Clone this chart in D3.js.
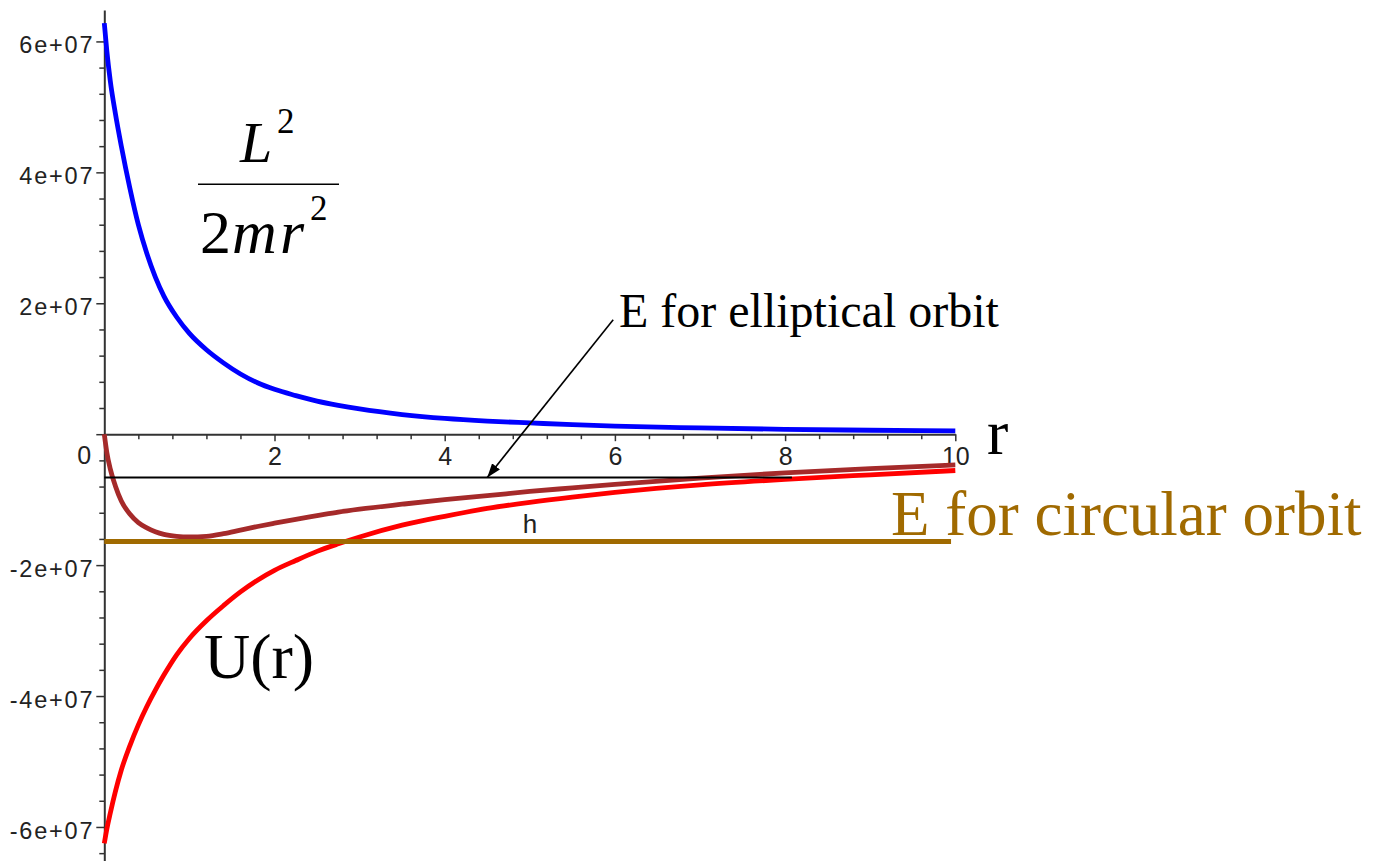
<!DOCTYPE html>
<html>
<head>
<meta charset="utf-8">
<script src="https://cdn.jsdelivr.net/npm/d3@7"></script>
<style>
  html, body { margin: 0; padding: 0; background: #fff; }
  svg { display: block; }
</style>
</head>
<body>
<svg id="chart" width="1378" height="861"></svg>
<script>
// Radial distance r (plot units)
const r = [0, 0.03, 0.07, 0.13, 0.2, 0.3, 0.4, 0.5, 0.6, 0.7, 0.85, 1.0, 1.2, 1.4, 1.6, 1.8,
           2.0, 2.25, 2.5, 2.75, 3.0, 3.5, 4.0, 4.5, 5.0, 5.5, 6.0, 7.0, 8.0, 9.0, 10.0];

// Energies in units of 1e7
// centrifugal term L^2 / (2 m r^2)
const centrifugal = [6.28, 5.85, 5.40, 4.90, 4.40, 3.76, 3.20, 2.76, 2.40, 2.11, 1.79, 1.54, 1.29, 1.09, 0.92, 0.785,
                     0.685, 0.59, 0.505, 0.44, 0.385, 0.30, 0.24, 0.20, 0.172, 0.145, 0.123, 0.095, 0.074, 0.06, 0.05];
// gravitational potential U(r)
const potential = [-6.25, -6.03, -5.79, -5.46, -5.13, -4.76, -4.44, -4.16, -3.91, -3.68, -3.37, -3.12, -2.85, -2.62, -2.41, -2.23,
                   -2.08, -1.93, -1.79, -1.675, -1.57, -1.39, -1.255, -1.135, -1.04, -0.96, -0.89, -0.775, -0.69, -0.62, -0.555];
// effective potential
const effective = [0, -0.28, -0.53, -0.79, -1.02, -1.22, -1.35, -1.43, -1.49, -1.53, -1.56, -1.57, -1.56, -1.52, -1.465, -1.41,
                   -1.36, -1.30, -1.245, -1.19, -1.145, -1.07, -1.00, -0.94, -0.875, -0.82, -0.765, -0.67, -0.59, -0.525, -0.47];

// Energy levels (units of 1e7) and the r-span each is drawn over
const ellipticalE = -0.66;
const ellipticalSpan = [0, 8.08];
const circularE = -1.64;
const circularSpan = [0, 9.95];

// Axis ticks
const xMajorTicks = [2, 4, 6, 8, 10];
const xTickLabels = ["2", "4", "6", "8", "10"];
const yMajorTicks = [-6, -4, -2, 0, 2, 4, 6];
const yTickLabels = ["-6e+07", "-4e+07", "-2e+07", "0", "2e+07", "4e+07", "6e+07"];

const svg = d3.select("#chart");
const x = d3.scaleLinear().domain([0, 10]).range([104.3, 955.3]);
const y = d3.scaleLinear().domain([-6.52, 6.48]).range([861, 10]);

const sans = "'Liberation Sans', Arial, sans-serif";
const serif = "'Liberation Serif', 'Times New Roman', serif";
const axisColor = "#333";

// ---- y axis ----
const yMinor = d3.range(-16, 16).map(i => i * 0.4).filter(v => !yMajorTicks.some(m => Math.abs(m - v) < 1e-9));
const gyMinor = svg.append("g").attr("transform", `translate(${x(0)},0)`)
  .call(d3.axisLeft(y).tickValues(yMinor).tickSize(5).tickFormat(""));
gyMinor.select(".domain").remove();
gyMinor.selectAll(".tick line").attr("stroke", axisColor).attr("stroke-width", 1.5);

const gy = svg.append("g").attr("transform", `translate(${x(0)},0)`)
  .call(d3.axisLeft(y).tickValues(yMajorTicks).tickSize(8).tickSizeOuter(0)
        .tickFormat((d, i) => yTickLabels[i]));
gy.select(".domain").attr("stroke", axisColor).attr("stroke-width", 2);
gy.selectAll(".tick line").attr("stroke", axisColor).attr("stroke-width", 1.5);
gy.selectAll(".tick text")
  .attr("font-family", sans).attr("font-size", 23.5).attr("fill", "#222")
  .attr("letter-spacing", 1.8).attr("x", -10).attr("dy", "0.48em");
gy.selectAll(".tick text").filter(d => d === 0)
  .attr("letter-spacing", 0).attr("font-size", 25)
  .attr("text-anchor", "middle").attr("x", -20).attr("dy", 0).attr("y", 29);

// ---- x axis ----
const xMinor = d3.range(1, 25).map(i => i * 0.4).filter(v => !xMajorTicks.some(m => Math.abs(m - v) < 1e-9));
const gxMinor = svg.append("g").attr("transform", `translate(0,${y(0)})`)
  .call(d3.axisBottom(x).tickValues(xMinor).tickSize(5).tickFormat(""));
gxMinor.select(".domain").remove();
gxMinor.selectAll(".tick line").attr("stroke", axisColor).attr("stroke-width", 1.5);

const gx = svg.append("g").attr("transform", `translate(0,${y(0)})`)
  .call(d3.axisBottom(x).tickValues(xMajorTicks).tickSize(7).tickSizeOuter(0)
        .tickFormat((d, i) => xTickLabels[i]));
gx.select(".domain").attr("stroke", axisColor).attr("stroke-width", 2);
gx.selectAll(".tick line").attr("stroke", axisColor).attr("stroke-width", 1.5);
gx.selectAll(".tick text")
  .attr("font-family", sans).attr("font-size", 25).attr("fill", "#222")
  .attr("y", 31).attr("dy", 0);

// ---- curves ----
const line = d3.line().x(d => x(d.r)).y(d => y(d.v)).curve(d3.curveMonotoneX);
const series = [
  { values: centrifugal, color: "#0000FF" },
  { values: potential, color: "#FF0000" },
  { values: effective, color: "#A52A2A" }
];
svg.append("g").selectAll("path").data(series).join("path")
  .attr("d", s => line(r.map((rv, i) => ({ r: rv, v: s.values[i] }))))
  .attr("fill", "none")
  .attr("stroke", s => s.color)
  .attr("stroke-width", 4.8)
  .attr("stroke-linejoin", "round");

// ---- energy levels ----
svg.append("path")
  .attr("d", line(ellipticalSpan.map(rv => ({ r: rv, v: ellipticalE }))))
  .attr("stroke", "#000").attr("stroke-width", 2).attr("fill", "none");
svg.append("path")
  .attr("d", line(circularSpan.map(rv => ({ r: rv, v: circularE }))))
  .attr("stroke", "#A06A00").attr("stroke-width", 5).attr("fill", "none");

// ---- annotations ----
const defs = svg.append("defs");
defs.append("marker")
  .attr("id", "arrowhead").attr("markerUnits", "userSpaceOnUse")
  .attr("viewBox", "0 0 14 10").attr("markerWidth", 14).attr("markerHeight", 10)
  .attr("refX", 14).attr("refY", 5).attr("orient", "auto")
  .append("path").attr("d", "M0,0 L14,5 L0,10 Z").attr("fill", "#000");

svg.append("line")
  .attr("x1", x(5.98)).attr("y1", y(1.75))
  .attr("x2", x(4.5)).attr("y2", y(ellipticalE))
  .attr("stroke", "#000").attr("stroke-width", 1.6)
  .attr("marker-end", "url(#arrowhead)");

svg.append("text")
  .attr("x", 619).attr("y", 327)
  .attr("font-family", serif).attr("font-size", 48).attr("fill", "#000")
  .text("E for elliptical orbit");

svg.append("text")
  .attr("x", 891).attr("y", 535)
  .attr("font-family", serif).attr("font-size", 63).attr("fill", "#A06A00")
  .text("E for circular orbit");

svg.append("text")
  .attr("x", 987).attr("y", 454)
  .attr("font-family", serif).attr("font-size", 64).attr("fill", "#000")
  .text("r");

svg.append("text")
  .attr("x", 204).attr("y", 678)
  .attr("font-family", serif).attr("font-size", 64).attr("fill", "#000")
  .text("U(r)");

svg.append("text")
  .attr("x", 530).attr("y", 533).attr("text-anchor", "middle")
  .attr("font-family", sans).attr("font-size", 26).attr("fill", "#222")
  .text("h");

// L^2 / (2 m r^2)
const frac = svg.append("g").attr("font-family", serif).attr("fill", "#000");
frac.append("text").attr("x", 240).attr("y", 162)
  .attr("font-size", 58).attr("font-style", "italic").text("L");
frac.append("text").attr("x", 277).attr("y", 133)
  .attr("font-size", 35).text("2");
frac.append("line")
  .attr("x1", 198).attr("x2", 339).attr("y1", 184.3).attr("y2", 184.3)
  .attr("stroke", "#000").attr("stroke-width", 1.6);
const denom = frac.append("text").attr("y", 253).attr("font-size", 62);
denom.append("tspan").attr("x", 200).text("2");
denom.append("tspan").attr("x", 232).attr("font-style", "italic").text("m");
denom.append("tspan").attr("x", 280).attr("font-style", "italic").text("r");
frac.append("text").attr("x", 310).attr("y", 220)
  .attr("font-size", 35).text("2");
</script>
</body>
</html>
